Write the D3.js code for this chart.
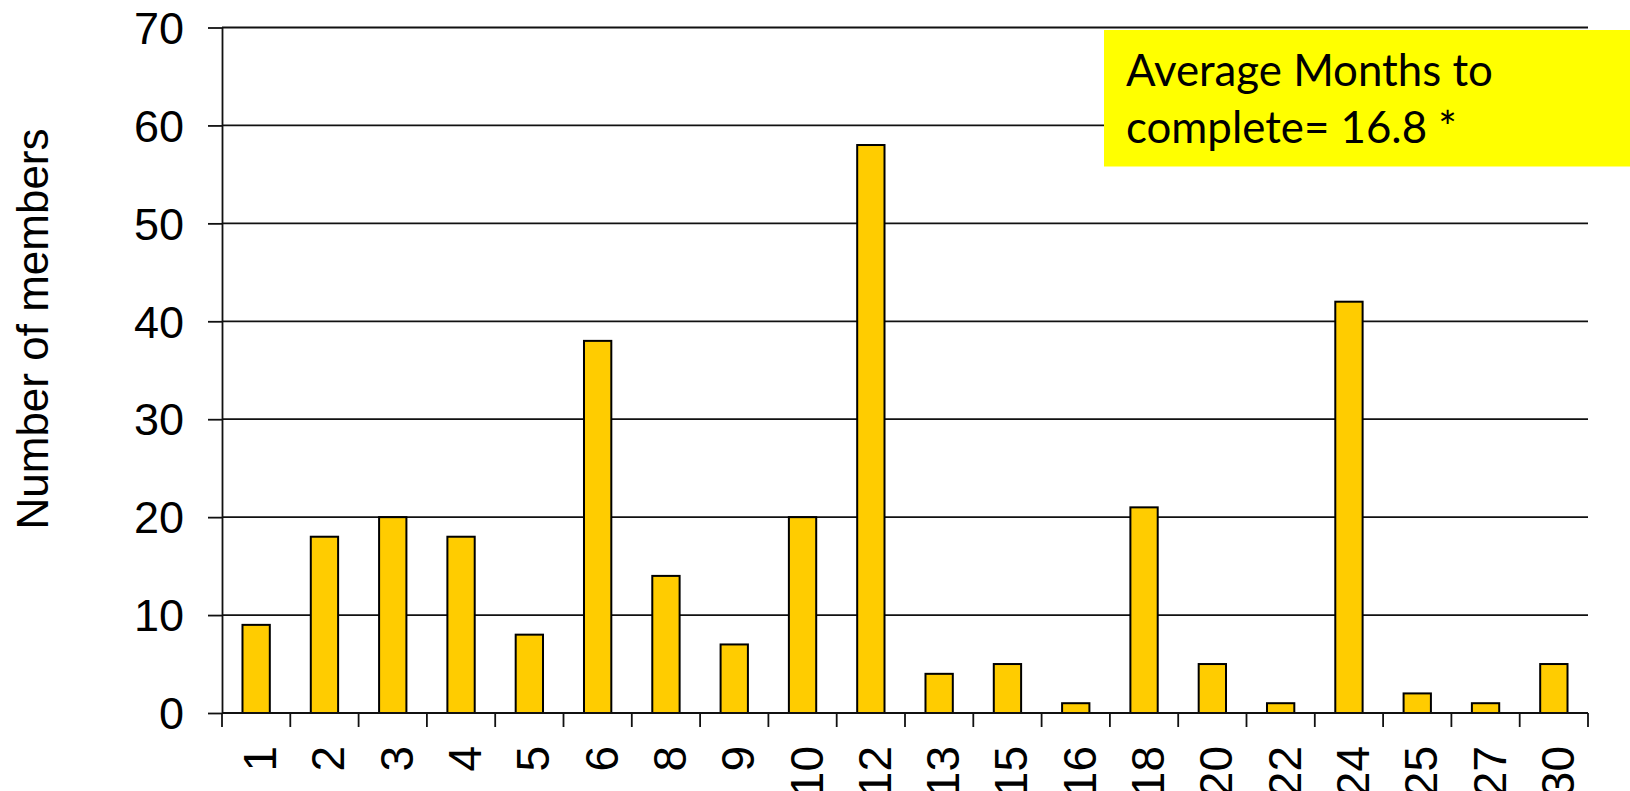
<!DOCTYPE html>
<html>
<head>
<meta charset="utf-8">
<script src="https://cdn.jsdelivr.net/npm/d3@7"></script>
<style>
  html, body { margin: 0; padding: 0; background: #fff; overflow: hidden; }
  svg { display: block; }
</style>
</head>
<body>
<svg id="chart" width="1630" height="791"></svg>
<script>
// ---- data ----
const categories = ["1","2","3","4","5","6","8","9","10","12","13","15","16","18","20","22","24","25","27","30"];
const members    = [9, 18, 20, 18, 8, 38, 14, 7, 20, 58, 4, 5, 1, 21, 5, 1, 42, 2, 1, 5];
const yTicks     = [0, 10, 20, 30, 40, 50, 60, 70];
const yTitle     = "Number of members";
const noteLines  = ["Average Months to", "complete= 16.8 *"];

// ---- layout ----
const W = 1630, H = 791;
const plotLeft = 222, plotRight = 1588, plotTop = 27.5, plotBottom = 713;

const svg = d3.select("#chart");

const x = d3.scaleBand().domain(categories).range([plotLeft, plotRight])
  .paddingInner(0.6).paddingOuter(0.3);
const xb = d3.scaleBand().domain(categories).range([plotLeft, plotRight]).padding(0);
const y = d3.scaleLinear().domain([0, 70]).range([plotBottom, plotTop]);

const lineColor = "#111";

// gridlines
svg.append("g").selectAll("line").data(yTicks).join("line")
  .attr("x1", plotLeft).attr("x2", plotRight)
  .attr("y1", d => y(d)).attr("y2", d => y(d))
  .attr("stroke", lineColor).attr("stroke-width", 1.8);

// bars
svg.append("g").selectAll("rect").data(categories).join("rect")
  .attr("x", d => x(d))
  .attr("width", x.bandwidth())
  .attr("y", (d, i) => y(members[i]))
  .attr("height", (d, i) => y(0) - y(members[i]))
  .attr("fill", "#FFCC00")
  .attr("stroke", "#000")
  .attr("stroke-width", 2);

// y axis
const yAxis = svg.append("g").attr("transform", `translate(${plotLeft},0)`)
  .call(d3.axisLeft(y).tickValues(yTicks).tickSize(14).tickSizeOuter(0).tickPadding(24));
yAxis.selectAll("path.domain").attr("stroke", lineColor).attr("stroke-width", 1.8);
yAxis.selectAll(".tick line").attr("stroke", lineColor).attr("stroke-width", 1.8);
yAxis.selectAll("text")
  .attr("font-family", "'Liberation Sans', Arial, sans-serif")
  .attr("font-size", 45).attr("fill", "#000").attr("dy", "0.35em");

// x axis
const xAxis = svg.append("g").attr("transform", `translate(0,${plotBottom})`)
  .call(d3.axisBottom(x).tickSize(0).tickSizeOuter(0));
xAxis.selectAll("path.domain").attr("stroke", lineColor).attr("stroke-width", 1.8)
  .attr("d", `M${plotLeft},0H${plotRight}`);
xAxis.selectAll("text")
  .attr("font-family", "'Liberation Sans', Arial, sans-serif")
  .attr("font-size", 46).attr("fill", "#000")
  .attr("transform", "rotate(-90)")
  .attr("text-anchor", "end")
  .attr("x", -33).attr("y", 20).attr("dy", 0);

// boundary ticks on x axis
const bounds = categories.map(c => xb(c)).concat([plotRight]);
svg.append("g").selectAll("line").data(bounds).join("line")
  .attr("x1", d => d).attr("x2", d => d)
  .attr("y1", plotBottom).attr("y2", plotBottom + 14)
  .attr("stroke", lineColor).attr("stroke-width", 1.8);

// y title
svg.append("text")
  .attr("transform", `translate(48,329) rotate(-90)`)
  .attr("text-anchor", "middle")
  .attr("font-family", "'Liberation Sans', Arial, sans-serif")
  .attr("font-size", 44).attr("fill", "#000")
  .text(yTitle);

// yellow note box
const note = svg.append("g");
note.append("rect").attr("x", 1104).attr("y", 30).attr("width", W - 1104).attr("height", 136.5)
  .attr("fill", "#FFFF00");
const noteText = note.selectAll("text").data(noteLines).join("text")
  .attr("x", 1126).attr("y", (d, i) => 86 + i * 57)
  .attr("font-family", "Lato, 'Open Sans', sans-serif")
  .attr("font-size", 46).attr("fill", "#000")
  .text(d => d);
// fit first line width to the reference (~367px)
const w0 = noteText.nodes()[0].getComputedTextLength();
const fs = 46 * 367 / w0;
noteText.attr("font-size", fs);
</script>
</body>
</html>
